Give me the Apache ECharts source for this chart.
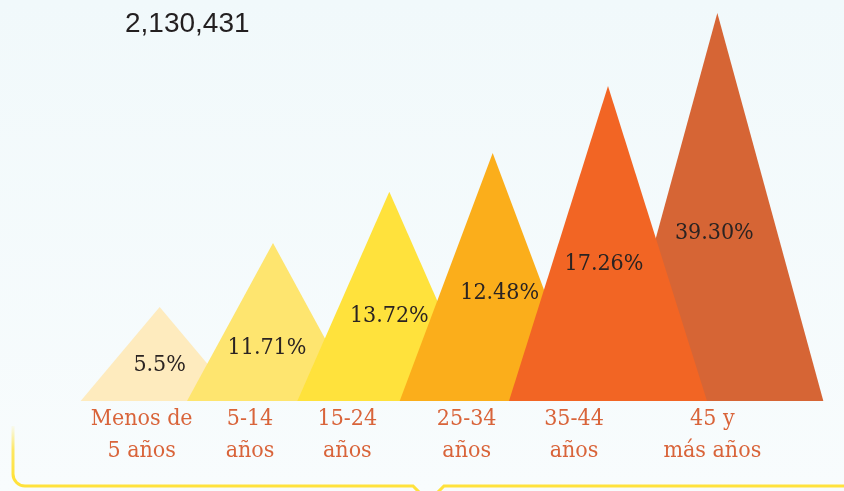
<!DOCTYPE html>
<html>
<head>
<meta charset="utf-8">
<script src="https://cdn.jsdelivr.net/npm/echarts@6/dist/echarts.min.js"></script>
<style>
html,body{margin:0;padding:0;background:#f4fafc;}
#chart{width:844px;height:491px;}
</style>
</head>
<body>
<div id="chart"></div>
<script>
// grupos de edad (eje x)
var ageGroups = ['Menos de\n5 años', '5-14\naños', '15-24\naños', '25-34\naños', '35-44\naños', '45 y\nmás años'];
// porcentaje de cada grupo
var shares = ['5.5%', '11.71%', '13.72%', '12.48%', '17.26%', '39.30%'];
// altura de cada pico, en % del pico más alto
var peakHeights = [24.2, 40.7, 53.9, 63.9, 81.2, 100];
var total = '2,130,431';

/* estilos */
var colors = ['#feebbe', '#fee56f', '#ffe23c', '#fbae1b', '#f26524', '#d66535'];
var baseWidths = [158, 172, 184, 186, 198, 212];
var apexShift = [-2, 0, 5, -3, 1, -1];
var tickShift = [-20, -23, -37, -29, -33, -6];
var shareNudge = [[-2, 11], [-6, 26], [5, 20], [4, 16], [-3, 21], [-4, 26]];

var fontSerif = '"DejaVu Serif Condensed", "DejaVu Serif", serif';

function peak(i) {
    return {
        value: peakHeights[i],
        symbolSize: [baseWidths[i], '100%'],
        symbolOffset: [apexShift[i], 0],
        itemStyle: {color: colors[i]},
        label: {offset: shareNudge[i]}
    };
}

// 35-44 va por encima de 45 y más, así que el último pico va en su propia serie debajo
var frontData = [], backData = [];
for (var i = 0; i < ageGroups.length; i++) {
    if (i === ageGroups.length - 1) {
        frontData.push('-');
        backData.push(peak(i));
    } else {
        frontData.push(peak(i));
        backData.push('-');
    }
}

var rich = {};
for (var k = 0; k < ageGroups.length; k++) {
    rich['t' + k] = {
        fontFamily: fontSerif,
        fontSize: 23,
        lineHeight: 32,
        color: '#d9643a',
        padding: [0, -2 * tickShift[k], 0, 0]
    };
}

var chart = echarts.init(document.getElementById('chart'));
var shareLabel = {
    show: true,
    position: 'inside',
    fontFamily: fontSerif,
    fontSize: 23,
    color: '#2a2322',
    formatter: function (p) {
        return shares[p.dataIndex];
    }
};
var option = {
    backgroundColor: new echarts.graphic.LinearGradient(0, 0, 0, 1, [
        {offset: 0, color: '#f1f9fb'},
        {offset: 1, color: '#f8fcfd'}
    ]),
    animation: false,
    title: {
        text: total,
        left: 120,
        top: 5,
        textStyle: {
            fontFamily: '"Liberation Sans", Arial, sans-serif',
            fontSize: 28,
            fontWeight: 'normal',
            color: '#231f20'
        }
    },
    grid: {left: 106, right: 70, top: 13, bottom: 90},
    xAxis: {
        type: 'category',
        data: ageGroups,
        axisLine: {show: false},
        axisTick: {show: false},
        axisLabel: {
            margin: 2,
            interval: 0,
            formatter: function (value, idx) {
                return value.split('\n').map(function (line) {
                    return '{t' + idx + '|' + line + '}';
                }).join('\n');
            },
            rich: rich
        }
    },
    yAxis: {
        type: 'value',
        min: 0,
        max: 100,
        show: false
    },
    series: [
        {
            type: 'pictorialBar',
            symbol: 'triangle',
            barWidth: 100,
            barGap: '-100%',
            z: 1,
            label: shareLabel,
            data: backData
        },
        {
            type: 'pictorialBar',
            symbol: 'triangle',
            barWidth: 100,
            barGap: '-100%',
            z: 2,
            label: shareLabel,
            data: frontData
        }
    ],
    graphic: [
        {
            type: 'line',
            shape: {x1: 13, y1: 426, x2: 13, y2: 474},
            style: {
                lineWidth: 3,
                stroke: new echarts.graphic.LinearGradient(0, 0, 0, 1, [
                    {offset: 0, color: 'rgba(255,226,60,0)'},
                    {offset: 0.5, color: 'rgba(255,226,60,0.8)'},
                    {offset: 1, color: '#ffe23c'}
                ])
            }
        },
        {
            type: 'arc',
            shape: {cx: 25, cy: 474, r: 12, startAngle: Math.PI / 2, endAngle: Math.PI, clockwise: true},
            style: {fill: null, lineWidth: 3, stroke: '#ffe23c'}
        },
        {
            type: 'polyline',
            shape: {points: [[25, 486], [413, 486], [420, 493]]},
            style: {fill: null, lineWidth: 3, stroke: '#ffe23c'}
        },
        {
            type: 'polyline',
            shape: {points: [[437, 493], [444, 486], [844, 486]]},
            style: {fill: null, lineWidth: 3, stroke: '#ffe23c'}
        }
    ]
};
chart.setOption(option);
window.addEventListener('resize', function () {
    chart.resize();
});
</script>
</body>
</html>
